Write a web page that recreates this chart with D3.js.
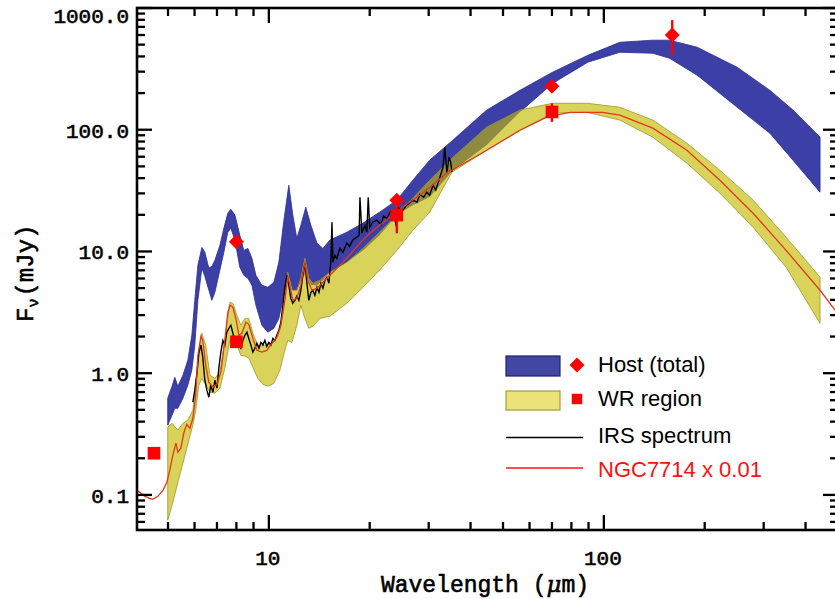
<!DOCTYPE html>
<html><head><meta charset="utf-8">
<script src="https://cdn.jsdelivr.net/npm/d3@7/dist/d3.min.js"></script>
<style>body{margin:0;background:#fff}svg{display:block}</style>
</head><body>
<svg id="chart" width="835" height="599"></svg>
<script>
// ---------------- data ----------------
const hostWave = [4.99,5.14,5.24,5.35,5.54,5.73,5.89,6.01,6.14,6.31,6.44,6.62,6.76,6.90,7.14,7.34,7.54,7.70,7.92,8.19,8.42,8.66,8.90,9.15,9.53,9.93,10.35,10.71,11.09,11.47,11.79,12.12,12.46,12.89,13.35,13.92,14.50,15.21,17.1,19.1,21.4,24.1,26.9,30.2,35.4,44.7,56.2,70.3,89.6,111.6,140,157,190,250,313,367,442];
const hostHigh = [0.623,0.78,0.925,0.78,0.962,1.28,2.05,3.97,7.70,10.8,9.85,7.28,7.55,8.47,11.2,15.5,20.6,22.2,19.9,13.6,10.2,10.6,8.79,6.37,5.28,5.08,5.58,8.15,18.1,35.0,19.9,12.8,16.4,23.1,16.4,11.7,10.6,12.4,14.4,17.1,21.0,26.4,38.5,56.2,82.0,145,211,297,409,523,544,544,476,326,211,145,86.8];
const hostLow = [0.374,0.452,0.515,0.515,0.623,0.797,1.06,1.70,3.97,7.28,6.25,4.80,3.97,4.62,7.01,9.85,14.4,15.5,12.4,7.42,6.37,6.02,5.28,3.61,2.48,2.17,2.34,2.82,4.37,6.37,4.80,4.80,5.58,6.75,5.28,5.28,5.80,6.75,8.15,10.2,13.6,19.9,24.0,28.0,46.0,75.0,140,240,359,433,425,387,280,153,93.6,56.2,30.7];

const wrWave = [4.99,5.14,5.35,5.54,5.73,5.93,6.05,6.18,6.31,6.48,6.67,6.90,7.14,7.39,7.65,7.81,8.03,8.25,8.48,8.71,8.96,9.27,9.60,9.93,10.35,10.79,11.16,11.39,11.72,12.12,12.46,12.81,13.16,13.53,14.21,15.21,17.1,19.1,21.4,24.1,26.9,30.2,35.2,44.7,56.2,70.3,89,111.6,140,177,222,279,350,442];
const wrHigh = [0.360,0.388,0.340,0.388,0.411,0.496,0.797,1.54,2.13,1.70,0.962,0.908,1.02,1.86,3.83,3.75,2.99,2.48,2.82,2.82,2.13,1.70,1.70,1.70,1.79,2.25,3.97,6.75,4.80,4.80,6.02,8.79,6.02,5.48,5.80,6.75,8.15,10.6,14.4,19.9,27.4,38.5,58.3,105,145,165,165,153,120,77.5,46.5,26.4,13.1,6.14];
const wrLow = [0.062,0.082,0.127,0.182,0.261,0.374,0.496,0.797,0.908,0.797,0.698,0.685,0.753,1.10,1.86,2.05,1.70,1.40,1.38,1.33,1.12,0.908,0.811,0.781,0.826,1.06,1.54,1.86,1.79,2.48,3.61,2.82,2.34,2.43,2.82,2.94,3.75,5.08,7.01,10.2,14.9,21.0,44.8,67.9,99,137,139,120,86.8,53.1,30.1,15.8,7.42,2.57];

const irsWave = [5.93,6.01,6.10,6.18,6.27,6.35,6.44,6.53,6.62,6.71,6.81,6.90,7.00,7.09,7.19,7.29,7.39,7.49,7.60,7.70,7.81,7.92,8.03,8.14,8.25,8.37,8.48,8.60,8.71,8.84,8.96,9.08,9.21,9.34,9.47,9.60,9.73,9.86,10.0,10.14,10.28,10.42,10.56,10.71,10.86,11.01,11.16,11.32,11.47,11.63,11.79,11.96,12.12,12.29,12.46,12.63,12.81,12.98,13.16,13.35,13.53,13.72,13.92,14.11,14.30,14.50,14.71,14.91,15.11,15.32,15.43,15.53,15.74,15.96,16.3,16.63,17.1,17.4,17.8,18.3,18.6,18.7,18.96,19.35,19.61,19.8,20.0,20.4,21.0,21.6,22.0,22.5,23.0,23.4,23.8,24.1,24.4,25.1,25.8,26.3,26.9,27.7,28.2,29.0,29.6,30.2,30.9,31.5,32.4,33.1,33.5,34.0,34.5,34.9,35.2];
const irsFlux = [0.578,0.725,1.00,1.46,1.70,1.35,0.875,0.725,0.635,0.797,0.698,0.875,0.753,1.10,1.49,1.86,1.70,2.17,2.34,2.48,2.13,1.86,1.79,1.70,1.60,1.86,2.05,2.17,1.93,1.70,1.49,1.60,1.76,1.60,1.79,1.70,1.86,1.66,1.79,1.70,1.93,1.86,2.05,2.25,2.62,3.61,4.99,6.37,5.28,4.13,3.75,3.97,4.29,3.97,4.80,6.37,8.00,5.58,3.97,4.62,4.80,4.37,5.08,4.62,5.48,4.99,5.80,6.14,5.48,8.47,17.4,8.15,9.30,8.79,10.6,9.85,11.7,11.0,12.4,13.1,13.6,27.9,14.1,16.4,14.4,27.9,15.8,17.4,18.1,16.7,19.5,18.7,21.0,21.8,18.1,15.5,22.6,21.8,24.0,24.9,26.4,25.4,29.5,27.9,30.7,29.0,35.0,31.9,40.7,49.2,71.8,44.0,59.5,54.1,44.8];

const ngcWave = [4.04,4.27,4.41,4.50,4.66,4.83,4.96,5.06,5.17,5.28,5.35,5.46,5.58,5.69,5.81,5.93,6.05,6.14,6.27,6.35,6.48,6.62,6.81,7.00,7.19,7.39,7.54,7.65,7.81,7.97,8.14,8.31,8.54,8.71,8.96,9.21,9.53,9.86,10.21,10.56,10.86,11.16,11.39,11.55,11.79,12.12,12.46,12.81,13.07,13.44,13.92,14.50,15.21,16.3,17.4,18.7,20.0,21.4,23.4,25.5,28.2,31.3,34.7,35.2,44.7,56.2,67.5,79.1,99.3,111.6,140,177,222,279,350,442,490];
const ngcFlux = [0.109,0.0973,0.0937,0.092,0.0973,0.109,0.127,0.159,0.212,0.266,0.224,0.242,0.327,0.380,0.353,0.426,0.660,1.40,2.01,1.86,1.16,0.843,0.767,0.811,1.02,1.86,3.16,3.61,3.48,2.82,2.05,2.13,2.62,2.52,1.93,1.54,1.49,1.54,1.76,1.97,2.48,3.97,6.25,5.28,3.97,4.13,5.28,8.15,5.80,4.80,4.99,5.58,6.37,7.70,9.30,11.7,14.1,16.4,19.9,24.0,29.0,36.4,46.5,46.5,67.9,99,127,139,139,132,103,67.9,38.5,20.6,10.2,4.80,3.3];

const hostPhotWave = [8.0, 24.1, 70.0, 160];
const hostPhotFlux = [12.0, 26.4, 228, 600];
const hostPhotErrLo = [null, null, null, 410];
const hostPhotErrHi = [null, null, null, 795];

const wrPhotWave = [4.54, 8.0, 24.1, 70.0];
const wrPhotFlux = [0.22, 1.81, 19.9, 140];
const wrPhotErrLo = [null, null, 14.1, 116];
const wrPhotErrHi = [null, null, 28.0, 165];

const yTickValues = [0.1, 1, 10, 100, 1000];
const yTickLabels = ["0.1", "1.0", "10.0", "100.0", "1000.0"];
const xTickValues = [10, 100];
const xTickLabels = ["10", "100"];
const legendLabels = ["Host (total)", "WR region", "IRS spectrum", "NGC7714 x 0.01"];

// ---------------- layout ----------------
const L = 137, R = 838, T = 8, B = 530;
const svg = d3.select("#chart");
const x = d3.scaleLog().domain([4.04, 500]).range([L, R]);
const y = d3.scaleLog().domain([0.0515, 1000]).range([B, T]);

const band = d3.area().x(d => x(d[0])).y0(d => y(d[1])).y1(d => y(d[2]));
const line = d3.line().x(d => x(d[0])).y(d => y(d[1]));
const hostData = hostWave.map((w, i) => [w, hostLow[i], hostHigh[i]]);
const wrData = wrWave.map((w, i) => [w, wrLow[i], wrHigh[i]]);

const defs = svg.append("defs");
defs.append("clipPath").attr("id", "clip")
  .append("rect").attr("x", L).attr("y", T).attr("width", R - L).attr("height", B - T);
defs.append("clipPath").attr("id", "wrclip").append("path").datum(wrData).attr("d", band);

const plot = svg.append("g").attr("clip-path", "url(#clip)");

const BLUE = "#3b3fa6", YELLOW = "#d9d35a";
plot.append("path").datum(hostData)
  .attr("d", band).attr("fill", BLUE).attr("stroke", "#2b2e8c").attr("stroke-width", 0.8);
plot.append("path").datum(wrData)
  .attr("d", band).attr("fill", YELLOW)
  .attr("stroke", "#9d972c").attr("stroke-width", 0.8);
// overlap of the two bands: darker olive where the yellow hatching lies on the blue
plot.append("g").attr("clip-path", "url(#wrclip)")
  .append("path").datum(hostData).attr("d", band)
  .attr("fill", "#77733a").attr("fill-opacity", 0.75);
plot.append("path").datum(irsWave.map((w, i) => [w, irsFlux[i]]))
  .attr("d", line).attr("fill", "none").attr("stroke", "#000").attr("stroke-width", 1.4);
plot.append("path").datum(ngcWave.map((w, i) => [w, ngcFlux[i]]))
  .attr("d", line).attr("fill", "none").attr("stroke", "#e2381c").attr("stroke-width", 1.3);

// photometry
const RED = "#ff0000";
const errG = plot.append("g").attr("stroke", RED).attr("stroke-width", 2.4);
hostPhotWave.forEach((w, i) => {
  if (hostPhotErrLo[i] != null) errG.append("line").attr("x1", x(w)).attr("x2", x(w))
    .attr("y1", y(hostPhotErrLo[i])).attr("y2", y(hostPhotErrHi[i]));
});
wrPhotWave.forEach((w, i) => {
  if (wrPhotErrLo[i] != null) errG.append("line").attr("x1", x(w)).attr("x2", x(w))
    .attr("y1", y(wrPhotErrLo[i])).attr("y2", y(wrPhotErrHi[i]));
});
const diamond = d3.symbol().type(d3.symbolSquare).size(112);
const square = d3.symbol().type(d3.symbolSquare).size(160);
plot.selectAll(".hp").data(hostPhotWave).join("path")
  .attr("d", diamond).attr("fill", RED)
  .attr("transform", (w, i) => `translate(${x(w)},${y(hostPhotFlux[i])}) rotate(45)`);
svg.selectAll(".wp").data(wrPhotWave).join("path")
  .attr("d", square).attr("fill", RED)
  .attr("transform", (w, i) => `translate(${x(w)},${y(wrPhotFlux[i])})`);

// ---------------- axes ----------------
const ax = svg.append("g").attr("stroke", "#000").attr("stroke-width", 2.3).attr("fill", "none");
const isMajor = v => Math.abs(Math.log10(v) - Math.round(Math.log10(v))) < 1e-6;
const yAll = y.ticks();
const xAll = x.ticks();
yAll.forEach(v => {
  const len = isMajor(v) ? 15 : 8, yy = y(v);
  ax.append("line").attr("x1", L).attr("x2", L + len).attr("y1", yy).attr("y2", yy);
  ax.append("line").attr("x1", R).attr("x2", R - len).attr("y1", yy).attr("y2", yy);
});
xAll.forEach(v => {
  const len = isMajor(v) ? 15 : 8, xx = x(v);
  ax.append("line").attr("x1", xx).attr("x2", xx).attr("y1", B).attr("y2", B - len);
  ax.append("line").attr("x1", xx).attr("x2", xx).attr("y1", T).attr("y2", T + len);
});
ax.append("rect").attr("x", L).attr("y", T).attr("width", R - L).attr("height", B - T)
  .attr("stroke-width", 2.6);

const MONO = "'Liberation Mono', 'Courier New', monospace";
const thick = sel => sel.attr("stroke", "#000").attr("stroke-width", 0.6).attr("paint-order", "stroke");
svg.selectAll(".ylab").data(yTickValues).join("text")
  .attr("x", L - 8).attr("y", v => Math.max(y(v) + 8, 23))
  .attr("text-anchor", "end").attr("font-family", MONO).attr("font-size", 21)
  .attr("fill", "#000").call(thick).text((v, i) => yTickLabels[i]);
svg.selectAll(".xlab").data(xTickValues).join("text")
  .attr("x", v => x(v) - 1).attr("y", 565)
  .attr("text-anchor", "middle").attr("font-family", MONO).attr("font-size", 21)
  .attr("fill", "#000").call(thick).text((v, i) => xTickLabels[i]);

const xt = svg.append("text").attr("x", 485).attr("y", 592).attr("text-anchor", "middle")
  .attr("font-family", MONO).attr("font-size", 23).attr("fill", "#000").call(thick);
xt.append("tspan").text("Wavelength (");
xt.append("tspan").attr("font-style", "italic").attr("font-family", "'DejaVu Serif', serif").text("\u03bc");
xt.append("tspan").text("m)");

const yt = svg.append("text").attr("transform", "translate(33,322) rotate(-90)")
  .attr("font-family", MONO).attr("font-size", 24).attr("fill", "#000").call(thick);
yt.append("tspan").text("F");
yt.append("tspan").attr("font-size", 15).attr("dy", 5).text("\u03bd");
yt.append("tspan").attr("dy", -5).attr("dx", 2).text("(mJy)");

// ---------------- legend ----------------
const lg = svg.append("g");
const SANS = "'Liberation Sans', Arial, Helvetica, sans-serif";
lg.append("rect").attr("x", 506).attr("y", 356).attr("width", 54).attr("height", 20)
  .attr("fill", "#4147a3").attr("stroke", "#1f2266").attr("stroke-width", 1.2);
lg.append("rect").attr("x", 506).attr("y", 391).attr("width", 54).attr("height", 19)
  .attr("fill", "#ebe37a").attr("stroke", "#a49d35").attr("stroke-width", 1.2);
lg.append("path").attr("d", diamond).attr("fill", RED).attr("transform", "translate(577,365) rotate(45)");
lg.append("path").attr("d", d3.symbol().type(d3.symbolSquare).size(110)).attr("fill", RED)
  .attr("transform", "translate(577,399)");
lg.append("line").attr("x1", 506).attr("x2", 583).attr("y1", 437.5).attr("y2", 437.5)
  .attr("stroke", "#000").attr("stroke-width", 1.5);
lg.append("line").attr("x1", 506).attr("x2", 583).attr("y1", 468).attr("y2", 468)
  .attr("stroke", "#ff1010").attr("stroke-width", 1.5);
const legY = [372, 406, 443, 477];
lg.selectAll("text").data(legendLabels).join("text")
  .attr("x", 598).attr("y", (d, i) => legY[i])
  .attr("font-family", SANS).attr("font-size", 22)
  .attr("fill", (d, i) => i === 3 ? "#ff1010" : "#000").text(d => d);
</script>
</body></html>
